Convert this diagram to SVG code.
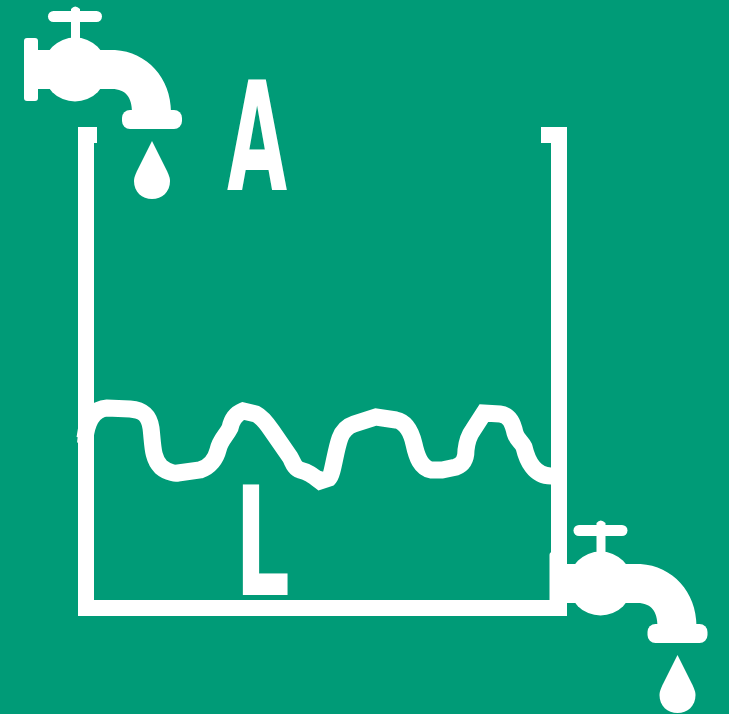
<svg xmlns="http://www.w3.org/2000/svg" width="729" height="714" viewBox="0 0 729 714">
<style>
.w{fill:#fff}
.t{fill:#fff;font-family:"DejaVu Sans",sans-serif;font-weight:700;font-size:151px}
</style>
<defs>
<g id="faucet" class="w">
<rect x="48" y="11" width="54" height="11" rx="5.500"/>
<path d="M71 40V9Q75 4 80 9V40Z"/>
<rect x="24" y="38" width="14" height="63" rx="3"/>
<ellipse cx="75" cy="69.500" rx="32" ry="32"/>
<path d="M36 50H115C147 52 171 78 171 112H132C132 98 126 89 112 89H36Z"/>
<rect x="122" y="110" width="60" height="19" rx="8"/>
<path d="M152 141L138 169C135 175 134 178 134 181C134 192 142 199 152 199C162 199 170 192 170 181C170 178 169 175 166 169Z"/>
</g>
</defs>
<rect width="729" height="714" fill="#009b77"/>
<g id="tank" class="w">
<path d="M78 127H97V143H94V600H551V143H541V127H567V616H78Z"/>
</g>
<g id="water">
<path d="M77 443L80 415L90 405L92 430Z" class="w"/>
<path d="M85 438C87 422 93 409 107 408L130 409C143 410 149 415 151 428C153 444 152 458 161 467C168 473 178 474 178 473L200 470C210 467 216 458 218 450C220 440 226 436 230 428C232 418 238 413 243 411L256 414C262 417 268 425 272 431L290 457C293 462 294 468 300 470C308 472 312 475 320 481L329 478C333 474 335 452 340 438C343 430 348 426 354 424L376 417L396 420C406 422 411 431 414 444C417 458 421 468 431 470C433 470 442 470 442 470L456 467C464 464 466 458 466 450C467 441 470 434 473 430L484 413L500 414C510 415 513 424 515 433C517 440 522 442 524 447C527 460 534 476 551 476" fill="none" stroke="#fff" stroke-width="17"/>
</g>
<g id="faucet-top"><use href="#faucet"/></g>
<g id="faucet-bottom"><use href="#faucet" x="525.500" y="514"/></g>
<g id="label-a"><text class="t" transform="translate(227 190) scale(0.515 1)">A</text></g>
<g id="label-l"><text class="t" transform="translate(235 595) scale(0.57 1)">L</text></g>
</svg>
